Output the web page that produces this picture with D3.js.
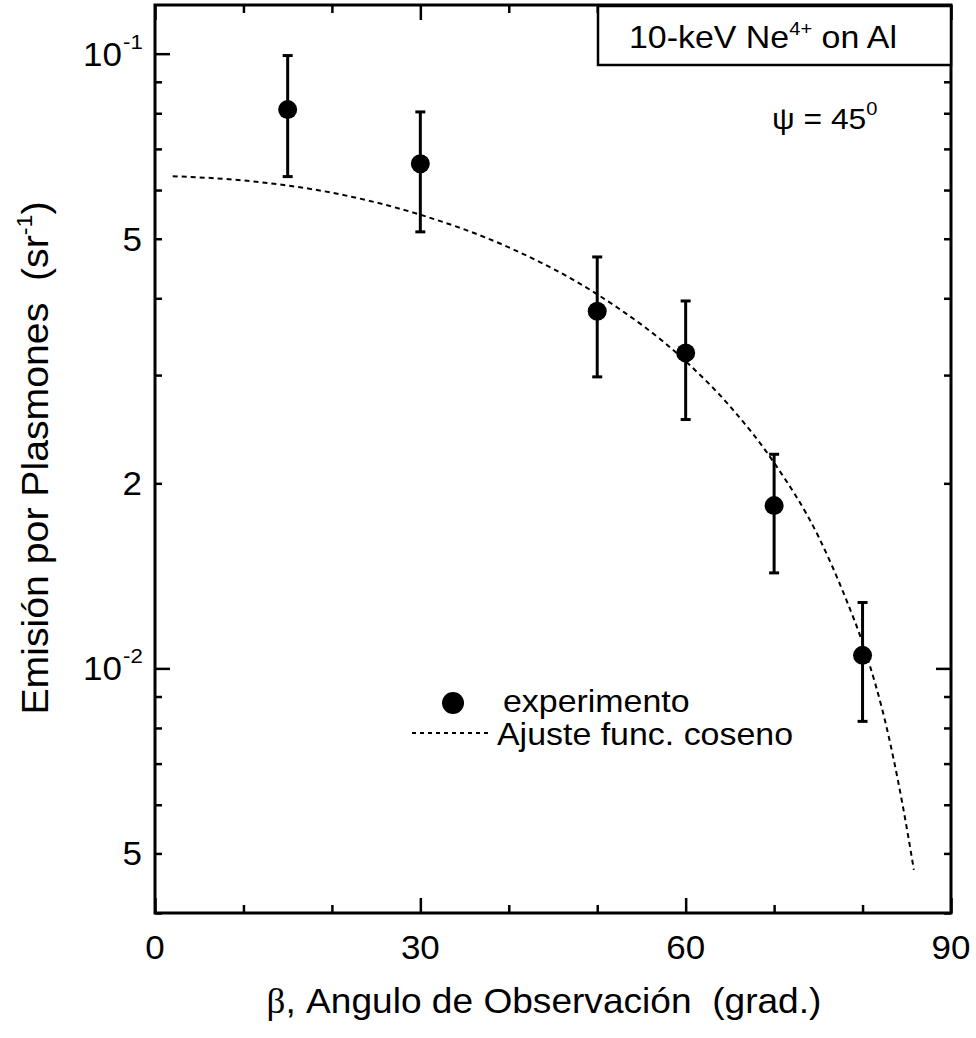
<!DOCTYPE html>
<html>
<head>
<meta charset="utf-8">
<script src="https://cdn.jsdelivr.net/npm/d3@7"></script>
<style>
  body { margin: 0; background: #fff; }
  text { font-family: "Liberation Sans", Arial, Helvetica, sans-serif; fill: #000; white-space: pre; }
</style>
</head>
<body>
<script>
// measured points (beta in degrees, emission in sr^-1)
const beta = [15, 30, 50, 60, 70, 80];
const emission = [0.0811, 0.0662, 0.0381, 0.0326, 0.0184, 0.0105];
const errHigh = [0.0993, 0.0804, 0.0467, 0.0396, 0.0223, 0.0128];
const errLow = [0.0631, 0.0513, 0.0298, 0.0254, 0.0143, 0.0082];

// cosine fit
const fitBeta = [2, 10, 20, 30, 40, 50, 60, 65, 70, 75, 78, 80, 83, 85, 85.8];
const fitValue = [0.0632, 0.0622, 0.0594, 0.0547, 0.0484, 0.0406, 0.0316, 0.0267, 0.0216, 0.0164, 0.0131, 0.0110, 0.0077, 0.0055, 0.0047];

const xTicksMajor = [0, 30, 60, 90];
const xTicksMinor = [10, 20, 40, 50, 70, 80];
const yTicksLabelled = [0.1, 0.05, 0.02, 0.01, 0.005];
const yTickText = [["10", "-1"], ["5", ""], ["2", ""], ["10", "-2"], ["5", ""]];
const yDecades = [0.1, 0.01];
const yMinor = [0.09, 0.08, 0.07, 0.06, 0.05, 0.04, 0.03, 0.02, 0.009, 0.008, 0.007, 0.006, 0.005, 0.004];

const legendLabels = ["experimento", "Ajuste func. coseno"];
const boxTitle = ["10-keV Ne", "4+", " on Al"];

const width = 976, height = 1038;
const marginLeft = 155, marginRight = 25, marginTop = 5, marginBottom = 125;
const SX = 1.06; // the original lettering is slightly wide

const x = d3.scaleLinear().domain([0, 90]).range([marginLeft, width - marginRight]);
const y = d3.scaleLog().domain([0.004, 0.12]).range([height - marginBottom, marginTop]);

const svg = d3.select("body").append("svg")
    .attr("width", width)
    .attr("height", height)
    .attr("viewBox", [0, 0, width, height]);

function label(parent, px, py, size, anchor, rot) {
  return parent.append("g")
      .attr("transform", `translate(${px},${py}) rotate(${rot || 0}) scale(${SX},1)`)
    .append("text")
      .attr("text-anchor", anchor)
      .style("font-size", size + "px");
}

const plotW = width - marginLeft - marginRight;
const plotH = height - marginTop - marginBottom;

// ticks, all pointing inward
function ticks(axis, values, len, tx, ty) {
  svg.append("g")
      .attr("transform", `translate(${tx},${ty})`)
      .call(axis.tickValues(values).tickSize(-len).tickFormat(""))
      .call(g => g.select(".domain").remove())
      .call(g => g.selectAll(".tick line").attr("stroke", "#000").attr("stroke-width", 2.5));
}
const bottomY = height - marginBottom, rightX = width - marginRight;
ticks(d3.axisBottom(x), xTicksMajor, 15, 0, bottomY);
ticks(d3.axisBottom(x), xTicksMinor, 8, 0, bottomY);
ticks(d3.axisTop(x), xTicksMajor, 15, 0, marginTop);
ticks(d3.axisTop(x), xTicksMinor, 8, 0, marginTop);
ticks(d3.axisLeft(y), yDecades, 15, marginLeft, 0);
ticks(d3.axisLeft(y), yMinor, 7, marginLeft, 0);
ticks(d3.axisRight(y), yDecades, 15, rightX, 0);
ticks(d3.axisRight(y), yMinor, 7, rightX, 0);

// frame
svg.append("rect")
    .attr("x", marginLeft).attr("y", marginTop)
    .attr("width", plotW).attr("height", plotH)
    .attr("fill", "none").attr("stroke", "#000").attr("stroke-width", 3);

// x tick labels
xTicksMajor.forEach(v => label(svg, x(v), bottomY + 46, 33, "middle").text(v));

// y tick labels
yTicksLabelled.forEach((v, i) => {
  const [base, sup] = yTickText[i];
  label(svg, sup ? 122 : 142, y(v) + 12, 33, "end").text(base);
  if (sup) label(svg, 123, y(v) - 5, 21, "start").text(sup);
});

// axis titles
const xt = label(svg, 544, 1013, 35, "middle");
xt.append("tspan").style("font-family", "'Liberation Serif', 'DejaVu Serif', serif").text("\u03b2");
xt.append("tspan").text(", Angulo de Observaci\u00f3n  (grad.)");
const yt = label(svg, 48, 458, 37, "middle", -90);
yt.append("tspan").text("Emisi\u00f3n por Plasmones  (sr");
yt.append("tspan").attr("dy", -16).style("font-size", "22px").text("-1");
yt.append("tspan").attr("dy", 16).text(")");

// fit curve
const line = d3.line()
    .x((d, i) => x(fitBeta[i]))
    .y(d => y(d))
    .curve(d3.curveMonotoneX);
svg.append("path")
    .attr("d", line(fitValue))
    .attr("fill", "none")
    .attr("stroke", "#000")
    .attr("stroke-width", 2)
    .attr("stroke-dasharray", "5,4");

// error bars
const bars = svg.append("g").attr("stroke", "#000").attr("stroke-width", 3);
beta.forEach((b, i) => {
  bars.append("line")
      .attr("x1", x(b)).attr("x2", x(b))
      .attr("y1", y(errLow[i])).attr("y2", y(errHigh[i]));
  [errLow[i], errHigh[i]].forEach(e => bars.append("line")
      .attr("x1", x(b) - 5).attr("x2", x(b) + 5)
      .attr("y1", y(e)).attr("y2", y(e)));
});

// points
svg.append("g")
  .selectAll("circle")
  .data(emission)
  .join("circle")
    .attr("cx", (d, i) => x(beta[i]))
    .attr("cy", d => y(d))
    .attr("r", 9.5)
    .attr("fill", "#000");

// legend
svg.append("circle").attr("cx", 453).attr("cy", 703).attr("r", 11).attr("fill", "#000");
label(svg, 503, 712, 32, "start").text(legendLabels[0]);
svg.append("line")
    .attr("x1", 412).attr("x2", 488).attr("y1", 733).attr("y2", 733)
    .attr("stroke", "#000").attr("stroke-width", 2).attr("stroke-dasharray", "4,4");
label(svg, 497, 745, 32, "start").text(legendLabels[1]);

// title box
svg.append("rect")
    .attr("x", 598).attr("y", 6)
    .attr("width", rightX - 598).attr("height", 59)
    .attr("fill", "#fff").attr("stroke", "#000").attr("stroke-width", 2.5);
const bt = label(svg, 763, 48, 32, "middle");
bt.append("tspan").text(boxTitle[0]);
bt.append("tspan").attr("dy", -13).style("font-size", "19px").text(boxTitle[1]);
bt.append("tspan").attr("dy", 13).text(boxTitle[2]);

// psi annotation
const pt = label(svg, 772, 129, 30, "start");
pt.append("tspan").text("\u03c8 = 45");
pt.append("tspan").attr("dy", -14).style("font-size", "19px").text("0");
</script>
</body>
</html>
